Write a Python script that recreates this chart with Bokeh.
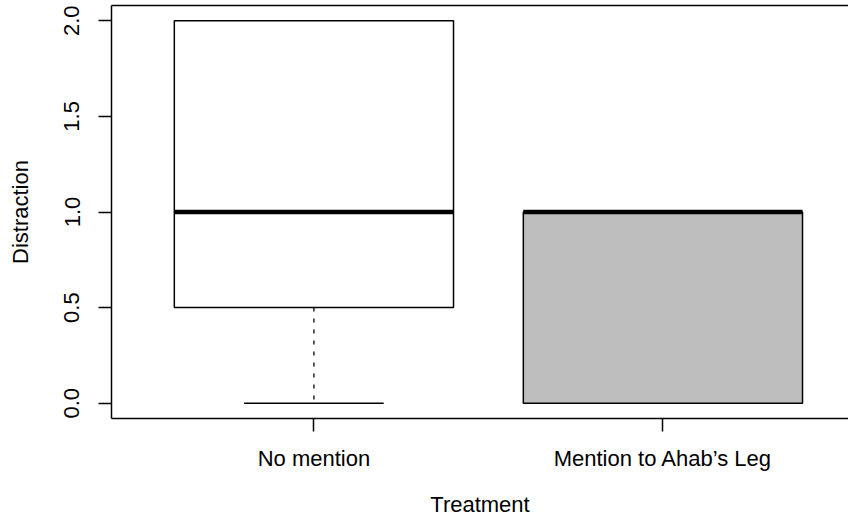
from bokeh.plotting import figure
from bokeh.models import FixedTicker, LinearAxis, Range1d
from bokeh.embed import file_html
from bokeh.resources import INLINE

# ---- data ----
categories = ["No mention", "Mention to Ahab\u2019s Leg"]
lower_whisker = [0.0, 0.0]
q1 = [0.5, 0.0]
median = [1.0, 1.0]
q3 = [2.0, 1.0]
upper_whisker = [2.0, 1.0]
y_ticks = [0.0, 0.5, 1.0, 1.5, 2.0]
y_tick_labels = ["0.0", "0.5", "1.0", "1.5", "2.0"]

# ---- styling ----
fill_colors = ["white", "#BEBEBE"]
FONT = "Liberation Sans"
FS = "22px"

xs = [i + 1 for i in range(len(categories))]
half_w = 0.4
cap_w = 0.2

p = figure(width=848, height=519, output_backend="svg", toolbar_location=None,
           x_range=Range1d(0.42, 0.42 + 737 / 349), y_range=Range1d(-0.08, 2.08),
           min_border_left=111, min_border_right=0, min_border_top=5,
           min_border_bottom=101)
p.background_fill_color = "white"
p.border_fill_color = "white"
p.outline_line_color = None
p.xgrid.visible = False
p.ygrid.visible = False

# whiskers (dashed)
p.segment(x0=xs, y0=q1, x1=xs, y1=lower_whisker, line_color="black",
          line_width=1.3, line_dash="4 7")
p.segment(x0=xs, y0=q3, x1=xs, y1=upper_whisker, line_color="black",
          line_width=1.3, line_dash="4 7")
# whisker caps
p.segment(x0=[x - cap_w for x in xs], y0=lower_whisker, x1=[x + cap_w for x in xs],
          y1=lower_whisker, line_color="black", line_width=1.5)
p.segment(x0=[x - cap_w for x in xs], y0=upper_whisker, x1=[x + cap_w for x in xs],
          y1=upper_whisker, line_color="black", line_width=1.5)
# boxes
p.quad(left=[x - half_w for x in xs], right=[x + half_w for x in xs], bottom=q1, top=q3,
       fill_color=fill_colors, line_color="black", line_width=1.5)
# medians
p.segment(x0=[x - half_w for x in xs], y0=median, x1=[x + half_w for x in xs], y1=median,
          line_color="black", line_width=4.5)

# axes
xa = p.xaxis[0]
xa.ticker = FixedTicker(ticks=xs)
xa.major_label_overrides = {x: c for x, c in zip(xs, categories)}
xa.axis_label = "Treatment"
ya = p.yaxis[0]
ya.ticker = FixedTicker(ticks=y_ticks)
ya.major_label_overrides = {t: l for t, l in zip(y_ticks, y_tick_labels)}
ya.major_label_orientation = "vertical"
ya.axis_label = "Distraction"

for ax in (xa, ya):
    ax.axis_line_color = "black"
    ax.axis_line_width = 1.5
    ax.major_tick_line_color = "black"
    ax.major_tick_line_width = 1.5
    ax.major_tick_out = 13
    ax.major_tick_in = 0
    ax.minor_tick_line_color = None
    ax.major_label_text_font = FONT
    ax.major_label_text_font_size = FS
    ax.major_label_text_color = "black"
    ax.axis_label_text_font = FONT
    ax.axis_label_text_font_size = FS
    ax.axis_label_text_font_style = "normal"
    ax.axis_label_text_color = "black"

xa.major_label_standoff = 14
xa.axis_label_standoff = 18
ya.major_label_standoff = 19
ya.axis_label_standoff = 29

top_axis = LinearAxis(ticker=FixedTicker(ticks=[]), major_tick_out=0, major_tick_in=0,
                      minor_tick_out=0, minor_tick_in=0, major_label_standoff=0,
                      major_label_text_font_size="0px", axis_line_color="black",
                      axis_line_width=1.5)
p.add_layout(top_axis, "above")

open("out.html", "w").write(file_html(p, INLINE))
